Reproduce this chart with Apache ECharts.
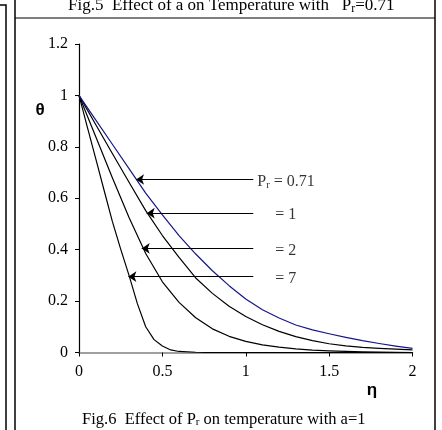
<!DOCTYPE html>
<html>
<head>
<meta charset="utf-8">
<script src="https://cdn.jsdelivr.net/npm/echarts@6/dist/echarts.min.js"></script>
<style>
  html, body { margin: 0; padding: 0; background: #ffffff; }
  #chart { width: 442px; height: 430px; }
</style>
</head>
<body>
<div id="chart"></div>
<script>
// Similarity variable eta (coarse grid for the slower profiles)
const eta = [0, 0.1, 0.2, 0.3, 0.4, 0.5, 0.6, 0.7, 0.8, 0.9, 1.0,
             1.1, 1.2, 1.3, 1.4, 1.5, 1.6, 1.7, 1.8, 1.9, 2.0];
// finer grid for the steep Pr = 7 profile
const eta7 = [0, 0.05, 0.1, 0.15, 0.2, 0.25, 0.3, 0.35, 0.4, 0.45, 0.5, 0.55, 0.6,
              0.7, 0.8, 1.0, 1.2, 1.4, 1.6, 1.8, 2.0];

// Temperature profiles theta(eta) for a = 1, one per Prandtl number
const thetaPr071 = [1, 0.905, 0.81, 0.715, 0.62, 0.535, 0.455, 0.383, 0.318, 0.26, 0.208,
                    0.166, 0.134, 0.107, 0.088, 0.073, 0.059, 0.046, 0.035, 0.025, 0.016];
const thetaPr1   = [1, 0.887, 0.774, 0.662, 0.552, 0.455, 0.37, 0.29, 0.23, 0.18, 0.14,
                    0.108, 0.082, 0.062, 0.046, 0.034, 0.026, 0.02, 0.016, 0.013, 0.01];
const thetaPr2   = [1, 0.84, 0.68, 0.525, 0.385, 0.275, 0.195, 0.135, 0.092, 0.063, 0.043,
                    0.03, 0.021, 0.014, 0.009, 0.006, 0.004, 0.003, 0.002, 0.001, 0];
const thetaPr7   = [1, 0.877, 0.755, 0.632, 0.51, 0.402, 0.3, 0.19, 0.1, 0.05, 0.025, 0.01, 0.004,
                    0.001, 0, 0, 0, 0, 0, 0, 0];

// Axis ticks
const xTicks = { min: 0, max: 2, step: 0.5 };
const yTicks = { min: 0, max: 1.2, step: 0.2 };

// Arrow call-outs: text, level of the arrow, where the arrow points
const annoText = ['= 0.71', '= 1', '= 2', '= 7'];
const annoTheta = [0.673, 0.542, 0.405, 0.295];
const annoTipEta = [0.342, 0.406, 0.376, 0.296];
const annoTailEta = 1.045;

const serif = 'Liberation Serif';
const navy = '#16168a';

function curve(name, xs, ys, color) {
  return {
    name: name,
    type: 'line',
    data: xs.map((x, i) => [x, ys[i]]),
    showSymbol: false,
    smooth: false,
    lineStyle: { color: color, width: 1.2, join: 'round' },
    silent: true
  };
}

// rich-text styles: main text and a small, slightly lowered subscript
function richFor(size, sub, lh, drop) {
  return {
    t: { fontFamily: serif, fontSize: size, color: '#000', verticalAlign: 'top', lineHeight: lh },
    s: { fontFamily: serif, fontSize: sub, color: '#000', verticalAlign: 'top', lineHeight: lh,
         padding: [drop, 0, 0, 0] }
  };
}

const chart = echarts.init(document.getElementById('chart'), null, { renderer: 'canvas' });

chart.setOption({
  animation: false,
  backgroundColor: '#ffffff',
  grid: { left: 79, right: 29.5, top: 44, bottom: 77.5, containLabel: false },
  xAxis: {
    type: 'value',
    min: xTicks.min, max: xTicks.max, interval: xTicks.step,
    axisLine: { show: true, onZero: false, lineStyle: { color: '#808080', width: 1.5 } },
    axisTick: { show: true, length: 4, lineStyle: { color: '#000', width: 1 } },
    axisLabel: { fontFamily: serif, fontSize: 16, color: '#000', margin: 11 },
    splitLine: { show: false }
  },
  yAxis: {
    type: 'value',
    min: yTicks.min, max: yTicks.max, interval: yTicks.step,
    axisLine: { show: true, lineStyle: { color: '#000', width: 1.2 } },
    axisTick: { show: true, length: 4, lineStyle: { color: '#000', width: 1 } },
    axisLabel: { fontFamily: serif, fontSize: 16, color: '#000', margin: 11 },
    splitLine: { show: false }
  },
  series: [
    curve('Pr = 7', eta7, thetaPr7, '#000'),
    curve('Pr = 2', eta, thetaPr2, '#000'),
    curve('Pr = 1', eta, thetaPr1, '#000'),
    curve('Pr = 0.71', eta, thetaPr071, navy),
    {
      name: 'labels',
      type: 'scatter',
      symbolSize: 0,
      silent: true,
      data: annoText.map((t, i) => ({
        value: [annoTailEta, annoTheta[i]],
        label: { distance: i === 0 ? 4 : 22 }
      })),
      label: {
        show: true,
        position: 'right',
        offset: [0, 4],
        formatter: p => (p.dataIndex === 0 ? '{t|P}{s|r}{t| ' : '{t|') + annoText[p.dataIndex] + '}',
        rich: richFor(16, 11, 20, 6)
      },
      markLine: {
        silent: true,
        animation: false,
        symbol: ['none', 'arrow'],
        symbolSize: 8,
        label: { show: false },
        lineStyle: { color: '#000', width: 1.2, type: 'solid' },
        data: annoTheta.map((th, i) => [
          { coord: [annoTailEta, th] },
          { coord: [annoTipEta[i], th] }
        ])
      }
    }
  ],
  graphic: [
    // neighbouring panel frame and this panel's frame
    { type: 'polyline', shape: { points: [[0, 5], [6, 5], [6, 430]] }, style: { stroke: '#000', lineWidth: 1.5, fill: null } },
    { type: 'line', shape: { x1: 15, y1: 0, x2: 15, y2: 430 }, style: { stroke: '#000', lineWidth: 1.5 } },
    { type: 'line', shape: { x1: 435, y1: 0, x2: 435, y2: 430 }, style: { stroke: '#000', lineWidth: 1.5 } },
    { type: 'line', shape: { x1: 15, y1: 18, x2: 435, y2: 18 }, style: { stroke: '#000', lineWidth: 1.2 } },
    // caption of the panel above
    {
      type: 'text', x: 68, y: -3,
      style: {
        text: '{t|Fig.5  Effect of a on Temperature with   P}{s|r}{t|=0.71}',
        rich: richFor(17, 12, 21, 6)
      }
    },
    // axis symbols
    { type: 'text', x: 40, y: 110, style: { text: 'θ', fontFamily: 'Liberation Sans', fontWeight: 'bold', fontSize: 17, fill: '#000', align: 'center', verticalAlign: 'middle' } },
    { type: 'text', x: 372, y: 390, style: { text: 'η', fontFamily: 'Liberation Sans', fontWeight: 'bold', fontSize: 17, fill: '#000', align: 'center', verticalAlign: 'middle' } },
    // figure caption
    {
      type: 'text', x: 82, y: 411,
      style: {
        text: '{t|Fig.6  Effect of P}{s|r}{t| on temperature with a=1}',
        rich: richFor(16.5, 11, 21, 6)
      }
    }
  ]
});
</script>
</body>
</html>
